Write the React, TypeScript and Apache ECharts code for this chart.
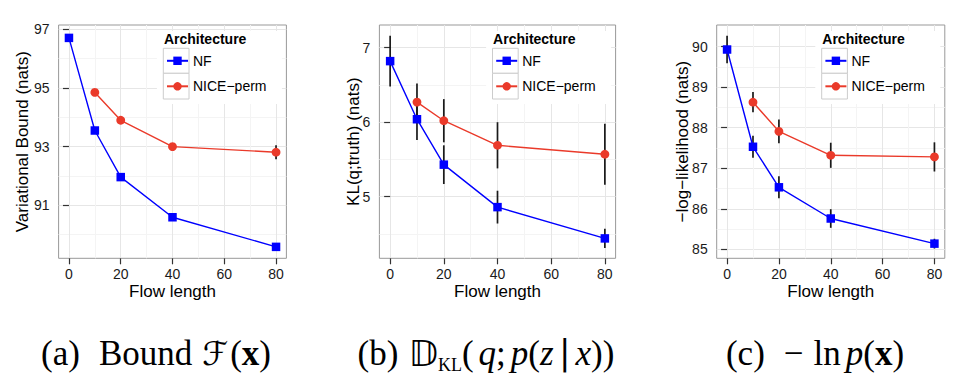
import React, { useEffect, useRef } from 'react';
import * as echarts from 'echarts';

// ---------- data ----------
const flowLength = [0, 10, 20, 40, 80];
const niceFlow = [10, 20, 40, 80];
const xTicks = [0, 20, 40, 60, 80];
const xMinor = [10, 30, 50, 70];
const seriesNames = ['NF', 'NICE\u2212perm'];

// (a) variational bound
const boundNF = [96.71, 93.55, 91.96, 90.59, 89.58];
const boundNFErr = [0.08, 0.05, 0.06, 0.06, 0.04];
const boundNICE = [94.85, 93.9, 93.0, 92.81];
const boundNICEErr = [0.1, 0.08, 0.1, 0.24];
const boundTicks = [91, 93, 95, 97];
const boundMinor = [90, 92, 94, 96];

// (b) KL
const klNF = [6.82, 6.04, 5.43, 4.86, 4.44];
const klNFErr = [0.34, 0.28, 0.26, 0.22, 0.13];
const klNICE = [6.27, 6.02, 5.69, 5.57];
const klNICEErr = [0.25, 0.29, 0.31, 0.41];
const klTicks = [5, 6, 7];
const klMinor = [4.5, 5.5, 6.5];

// (c) -log-likelihood
const nllNF = [89.93, 87.53, 86.53, 85.76, 85.14];
const nllNFErr = [0.34, 0.27, 0.27, 0.23, 0.12];
const nllNICE = [88.63, 87.91, 87.32, 87.28];
const nllNICEErr = [0.25, 0.29, 0.31, 0.36];
const nllTicks = [85, 86, 87, 88, 89, 90];
const nllMinor = [85.5, 86.5, 87.5, 88.5, 89.5];

const yTitles = ['Variational Bound (nats)', 'KL(q;truth) (nats)', '\u2212log\u2212likelihood (nats)'];
const xTitle = 'Flow length';
const legendTitle = 'Architecture';

// ---------- layout / style ----------
const SANS = '"Liberation Sans", Arial, Helvetica, sans-serif';
const SERIF = '"Liberation Serif", "Times New Roman", serif';
const BLUE = '#0000FF';
const RED = '#EA3A2A';
const TOP = 25;
const BOTTOM = 258.3;

const panels = [
  { left: 58.6, width: 227.8, yMin: 89.19, yMax: 97.15, nameGap: 28, nf: boundNF, nfErr: boundNFErr, nice: boundNICE, niceErr: boundNICEErr, ticks: boundTicks, minor: boundMinor },
  { left: 379.4, width: 236.2, yMin: 4.173, yMax: 7.305, nameGap: 17, nf: klNF, nfErr: klNFErr, nice: klNICE, niceErr: klNICEErr, ticks: klTicks, minor: klMinor },
  { left: 716.7, width: 228.1, yMin: 84.778, yMax: 90.535, nameGap: 25.7, nf: nllNF, nfErr: nllNFErr, nice: nllNICE, niceErr: nllNICEErr, ticks: nllTicks, minor: nllMinor },
];

function errData(xs: number[], v: number[], e: number[]) {
  return xs.map((x, i) => [x, v[i] - e[i], v[i] + e[i]]);
}

function buildOption() {
  const grid: any[] = [];
  const xAxis: any[] = [];
  const yAxis: any[] = [];
  const series: any[] = [];
  const legend: any[] = [];
  const graphic: any[] = [];

  panels.forEach((p, i) => {
    const right = p.left + p.width;
    grid.push({
      left: p.left, top: TOP, width: p.width, height: BOTTOM - TOP,
      show: true, borderColor: '#999999', borderWidth: 1, backgroundColor: '#ffffff',
      containLabel: false, outerBoundsMode: 'none',
    });
    xAxis.push({
      type: 'value', gridIndex: i, min: -4, max: 84,
      name: xTitle, nameLocation: 'middle', nameGap: 24.5, nameMoveOverlap: false,
      nameTextStyle: { fontSize: 17, color: '#000', fontFamily: SANS },
      axisLine: { show: false },
      axisTick: { show: true, length: 6, customValues: xTicks, lineStyle: { color: '#333', width: 1.2 } },
      axisLabel: { show: true, customValues: xTicks, margin: 9, fontSize: 14, color: '#1a1a1a', fontFamily: SANS },
      splitLine: { show: true, lineStyle: { color: '#e6e6e6', width: 1 } },
    });
    xAxis.push({
      type: 'value', gridIndex: i, min: -4, max: 84, position: 'top',
      axisLine: { show: false },
      axisTick: { show: false, customValues: xMinor },
      axisLabel: { show: false, customValues: xMinor },
      splitLine: { show: true, lineStyle: { color: '#f4f4f4', width: 1 } },
    });
    yAxis.push({
      type: 'value', gridIndex: i, min: p.yMin, max: p.yMax,
      name: yTitles[i], nameLocation: 'middle', nameGap: p.nameGap, nameMoveOverlap: false,
      nameTextStyle: { fontSize: 17, color: '#000', fontFamily: SANS },
      axisLine: { show: false },
      axisTick: { show: true, length: 6, customValues: p.ticks, lineStyle: { color: '#333', width: 1.2 } },
      axisLabel: { show: true, customValues: p.ticks, margin: 9, fontSize: 14, color: '#1a1a1a', fontFamily: SANS },
      splitLine: { show: true, lineStyle: { color: '#e6e6e6', width: 1 } },
    });
    yAxis.push({
      type: 'value', gridIndex: i, min: p.yMin, max: p.yMax, position: 'right',
      axisLine: { show: false },
      axisTick: { show: false, customValues: p.minor },
      axisLabel: { show: false, customValues: p.minor },
      splitLine: { show: true, lineStyle: { color: '#f4f4f4', width: 1 } },
    });

    const xi = 2 * i;
    const yi = 2 * i;
    const renderErr = (params: any, api: any) => {
      const x = api.value(0);
      const a = api.coord([x, api.value(1)]);
      const b = api.coord([x, api.value(2)]);
      return {
        type: 'line',
        shape: { x1: a[0], y1: a[1], x2: b[0], y2: b[1] },
        style: { stroke: '#1a1a1a', lineWidth: 1.7 },
      };
    };
    series.push({
      type: 'custom', name: 'errNF' + i, xAxisIndex: xi, yAxisIndex: yi, z: 2,
      renderItem: renderErr, encode: { x: 0, y: [1, 2] },
      data: errData(flowLength, p.nf, p.nfErr), silent: true,
    });
    series.push({
      type: 'custom', name: 'errNICE' + i, xAxisIndex: xi, yAxisIndex: yi, z: 2,
      renderItem: renderErr, encode: { x: 0, y: [1, 2] },
      data: errData(niceFlow, p.nice, p.niceErr), silent: true,
    });
    series.push({
      type: 'line', name: seriesNames[0], xAxisIndex: xi, yAxisIndex: yi, z: 3,
      data: flowLength.map((x, k) => [x, p.nf[k]]),
      symbol: 'rect', symbolSize: 8.5, showAllSymbol: true,
      lineStyle: { color: BLUE, width: 1.4 }, itemStyle: { color: BLUE },
    });
    series.push({
      type: 'line', name: seriesNames[1], xAxisIndex: xi, yAxisIndex: yi, z: 3,
      data: niceFlow.map((x, k) => [x, p.nice[k]]),
      symbol: 'circle', symbolSize: 8.8, showAllSymbol: true,
      lineStyle: { color: RED, width: 1.4 }, itemStyle: { color: RED },
    });

    legend.push({
      orient: 'vertical', left: right - 120.4, top: 53.8, padding: 0,
      itemWidth: 21, itemHeight: 10.5, itemGap: 11.5, selectedMode: false,
      textStyle: { fontSize: 14, color: '#000', fontFamily: SANS },
      data: seriesNames, z: 5,
    });

    // legend background & key boxes
    graphic.push({
      type: 'rect', z: 1, silent: true,
      shape: { x: right - 129.5, y: 31, width: 125, height: 73 },
      style: { fill: '#ffffff' },
    });
    graphic.push({
      type: 'rect', z: 2, silent: true,
      shape: { x: right - 123.1, y: 48.3, width: 25.7, height: 25 },
      style: { fill: '#ffffff', stroke: '#cccccc', lineWidth: 1 },
    });
    graphic.push({
      type: 'rect', z: 2, silent: true,
      shape: { x: right - 123.1, y: 73.3, width: 25.7, height: 25.7 },
      style: { fill: '#ffffff', stroke: '#cccccc', lineWidth: 1 },
    });
    graphic.push({
      type: 'text', z: 3, silent: true, x: right - 122.5, y: 39.3,
      style: { text: legendTitle, fontSize: 14, fontWeight: 'bold', fontFamily: SANS, fill: '#000', align: 'left', verticalAlign: 'middle' },
    });
  });

  const base = { fontFamily: SERIF, fontSize: 35, lineHeight: 42, verticalAlign: 'middle', color: '#000' };
  const rich = {
    n: { ...base },
    i: { ...base, fontStyle: 'italic' },
    b: { ...base, fontWeight: 'bold' },
    f: { ...base, fontFamily: '"DejaVu Sans", sans-serif', fontSize: 33 },
    d: { ...base, fontFamily: '"DejaVu Sans", sans-serif', fontSize: 36 },
    s: { ...base, fontSize: 18, lineHeight: 27, verticalAlign: 'bottom' },
    g: { ...base, width: 19 },
    h: { ...base, width: 10 },
    w: { ...base, width: 5 },
    t: { ...base, width: 2 },
  };
  const captions = [
    { x: 156, text: '{n|(a)}{g| }{n|Bound}{h| }{f|\u2131}{t| }{n|(}{b|x}{n|)}' },
    { x: 486, text: '{n|(b)}{h| }{d|\uD835\uDD3B}{s|KL}{n|(}{w| }{i|q}{n|;}{w| }{i|p}{n|(}{i|z}{t| }{n|\u2223}{t| }{i|x}{n|))}' },
    { x: 815, text: '{n|(c)}{g| }{n|\u2212}{h| }{n|ln}{w| }{i|p}{n|(}{b|x}{n|)}' },
  ];
  captions.forEach((c) => {
    graphic.push({
      type: 'text', silent: true, x: c.x, y: 353,
      style: { text: c.text, rich, align: 'center', verticalAlign: 'middle' },
    });
  });

  return {
    animation: false,
    backgroundColor: '#ffffff',
    grid, xAxis, yAxis, series, legend, graphic,
  };
}

export default function App() {
  const ref = useRef<HTMLDivElement>(null);
  useEffect(() => {
    if (!ref.current) return;
    const chart = echarts.init(ref.current, null, { renderer: 'svg' });
    chart.setOption(buildOption() as any);
    return () => chart.dispose();
  }, []);
  return (
    <div
      ref={ref}
      style={{ position: 'absolute', left: 0, top: 0, width: 958, height: 388, background: '#fff' }}
    />
  );
}
